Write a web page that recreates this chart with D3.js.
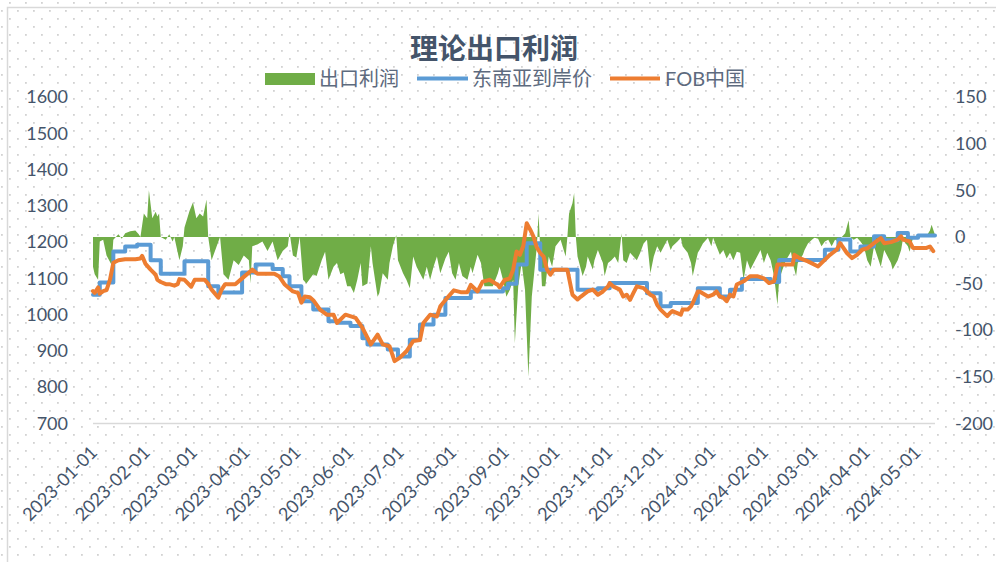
<!DOCTYPE html>
<html>
<head>
<meta charset="utf-8">
<script src="https://cdn.jsdelivr.net/npm/d3@7"></script>
<style>
  body { margin: 0; background: #fff; }
  svg { display: block; }
</style>
</head>
<body>
<svg id="chart" width="996" height="562"></svg>
<script>
// ---- data ----
const title = "理论出口利润";
const seriesNames = ["出口利润", "东南亚到岸价", "FOB中国"];
const leftTicks = [700, 800, 900, 1000, 1100, 1200, 1300, 1400, 1500, 1600];
const rightTicks = [-200, -150, -100, -50, 0, 50, 100, 150];

// 出口利润 (right axis)
const profitDates = ["2023-01-01","2023-01-02","2023-01-04","2023-01-05","2023-01-07","2023-01-09","2023-01-12","2023-01-13","2023-01-16","2023-01-18","2023-01-20","2023-01-23","2023-01-26","2023-01-28","2023-01-29","2023-01-31","2023-02-02","2023-02-03","2023-02-05","2023-02-07","2023-02-08","2023-02-09","2023-02-10","2023-02-13","2023-02-15","2023-02-17","2023-02-18","2023-02-21","2023-02-23","2023-02-24","2023-02-27","2023-03-01","2023-03-03","2023-03-05","2023-03-07","2023-03-09","2023-03-10","2023-03-12","2023-03-15","2023-03-17","2023-03-19","2023-03-22","2023-03-25","2023-03-28","2023-03-31","2023-04-03","2023-04-04","2023-04-05","2023-04-08","2023-04-11","2023-04-14","2023-04-17","2023-04-20","2023-04-23","2023-04-26","2023-04-27","2023-04-29","2023-05-01","2023-05-03","2023-05-05","2023-05-07","2023-05-11","2023-05-13","2023-05-16","2023-05-18","2023-05-20","2023-05-23","2023-05-25","2023-05-27","2023-05-29","2023-05-31","2023-06-02","2023-06-04","2023-06-06","2023-06-08","2023-06-09","2023-06-12","2023-06-14","2023-06-15","2023-06-18","2023-06-19","2023-06-21","2023-06-24","2023-06-25","2023-06-27","2023-06-29","2023-06-30","2023-07-03","2023-07-05","2023-07-07","2023-07-09","2023-07-11","2023-07-13","2023-07-15","2023-07-17","2023-07-19","2023-07-21","2023-07-23","2023-07-25","2023-07-28","2023-07-30","2023-08-01","2023-08-03","2023-08-05","2023-08-07","2023-08-10","2023-08-12","2023-08-13","2023-08-16","2023-08-18","2023-08-20","2023-08-25","2023-08-28","2023-08-29","2023-08-31","2023-09-02","2023-09-04","2023-09-06","2023-09-07","2023-09-09","2023-09-11","2023-09-13","2023-09-15","2023-09-17","2023-09-20","2023-09-21","2023-09-23","2023-09-25","2023-09-27","2023-09-29","2023-10-01","2023-10-04","2023-10-07","2023-10-08","2023-10-09","2023-10-11","2023-10-12","2023-10-13","2023-10-14","2023-10-17","2023-10-19","2023-10-20","2023-10-23","2023-10-24","2023-10-26","2023-10-29","2023-10-30","2023-11-01","2023-11-03","2023-11-05","2023-11-07","2023-11-09","2023-11-10","2023-11-12","2023-11-14","2023-11-16","2023-11-18","2023-11-20","2023-11-22","2023-11-24","2023-11-26","2023-11-28","2023-11-30","2023-12-02","2023-12-04","2023-12-06","2023-12-08","2023-12-09","2023-12-12","2023-12-14","2023-12-15","2023-12-18","2023-12-20","2023-12-21","2023-12-24","2023-12-25","2023-12-27","2023-12-30","2024-01-01","2024-01-02","2024-01-04","2024-01-06","2024-01-08","2024-01-10","2024-01-12","2024-01-14","2024-01-16","2024-01-18","2024-01-20","2024-01-22","2024-01-24","2024-01-26","2024-01-28","2024-01-30","2024-02-01","2024-02-03","2024-02-05","2024-02-07","2024-02-09","2024-02-10","2024-02-12","2024-02-14","2024-02-17","2024-02-18","2024-02-20","2024-02-21","2024-02-24","2024-02-25","2024-02-27","2024-03-01","2024-03-02","2024-03-04","2024-03-06","2024-03-08","2024-03-10","2024-03-12","2024-03-14","2024-03-16","2024-03-18","2024-03-20","2024-03-22","2024-03-23","2024-03-25","2024-03-27","2024-03-29","2024-03-31","2024-04-02","2024-04-04","2024-04-06","2024-04-08","2024-04-10","2024-04-12","2024-04-14","2024-04-16","2024-04-17","2024-04-20","2024-04-22","2024-04-23","2024-04-26","2024-04-27","2024-04-29","2024-05-02","2024-05-03","2024-05-05","2024-05-07","2024-05-09","2024-05-10","2024-05-12"];
const profitValues = [-32,-40,-46,-5,-3,-20,-30,-3,3,-2,4,6,7,3,0,25,20,50,20,27,22,25,0,-3,3,-5,0,-25,-10,10,28,37,20,25,22,40,0,-25,-10,0,-40,-46,-25,-30,-20,-25,-50,-10,-8,-5,-15,-5,-25,-15,-10,5,-20,-22,0,-46,-50,-40,-42,-25,-16,-46,-32,-28,-40,-38,-53,-53,-60,-46,-28,-53,-50,-10,-28,-64,-60,-39,-46,-28,-10,2,-25,-39,-46,-55,-21,-32,-39,-46,-32,-46,-32,-21,-39,-23,-16,-39,-46,-28,-42,-46,-32,-39,-19,-28,-53,-53,-39,-32,-46,-64,-57,-46,-114,-53,-28,-57,-150,-64,-10,25,-53,-53,-21,-32,-10,-3,-21,0,25,36,47,0,-21,-42,-32,-21,-35,-25,-14,-28,-42,-28,-25,-21,-28,4,-25,-28,-17,-21,-25,-17,-7,-3,-39,-21,-10,-17,-10,-3,-14,-10,-5,-1,-10,-17,-28,-42,-17,-14,-7,-1,-10,-1,-10,-19,-14,-23,-17,-25,-16,-17,-46,-25,-35,-28,-21,-14,-28,-17,-25,-42,-73,-46,-35,-25,-16,-28,-42,-28,-19,-14,-7,-2,-1,-2,-10,-5,-3,-10,-3,-5,0,4,18,0,-3,-1,-5,-10,-25,-32,-10,-21,-32,-14,-21,-28,-35,-25,-14,-3,-10,-16,-1,2,0,3,1,7,13,2];

// 东南亚到岸价 (left axis, stepped price)
const seaDates = ["2023-01-01","2023-01-05","2023-01-13","2023-01-20","2023-01-27","2023-02-04","2023-02-10","2023-02-24","2023-03-10","2023-03-16","2023-03-30","2023-04-07","2023-04-17","2023-04-23","2023-04-27","2023-05-04","2023-05-11","2023-05-20","2023-05-26","2023-06-02","2023-06-09","2023-06-12","2023-06-24","2023-06-30","2023-07-07","2023-07-13","2023-07-21","2023-07-28","2023-08-12","2023-08-31","2023-09-03","2023-09-08","2023-09-14","2023-09-22","2023-10-14","2023-10-26","2023-11-02","2023-11-24","2023-12-02","2023-12-08","2023-12-24","2024-01-06","2024-01-12","2024-01-19","2024-02-05","2024-02-10","2024-03-08","2024-03-16","2024-03-23","2024-03-29","2024-04-06","2024-04-12","2024-04-20","2024-04-26","2024-05-02","2024-05-12"];
const seaValues = [1055,1089,1174,1188,1193,1150,1113,1147,1078,1061,1116,1138,1126,1106,1078,1037,1014,982,978,969,935,918,904,885,931,973,1000,1046,1064,1073,1085,1138,1197,1124,1069,1073,1087,1059,1023,1032,1073,1050,1069,1098,1090,1151,1179,1207,1174,1188,1216,1205,1225,1212,1218,1218];

// FOB中国 (left axis)
const fobDates = ["2023-01-01","2023-01-02","2023-01-04","2023-01-05","2023-01-07","2023-01-09","2023-01-11","2023-01-13","2023-01-16","2023-01-20","2023-01-26","2023-01-29","2023-01-30","2023-02-01","2023-02-04","2023-02-07","2023-02-08","2023-02-10","2023-02-13","2023-02-15","2023-02-18","2023-02-20","2023-02-21","2023-02-24","2023-02-28","2023-03-02","2023-03-08","2023-03-10","2023-03-12","2023-03-16","2023-03-18","2023-03-20","2023-03-26","2023-03-30","2023-04-05","2023-04-08","2023-04-18","2023-04-21","2023-04-24","2023-04-29","2023-05-02","2023-05-04","2023-05-06","2023-05-09","2023-05-11","2023-05-15","2023-05-19","2023-05-23","2023-05-25","2023-05-30","2023-06-05","2023-06-09","2023-06-14","2023-06-18","2023-06-21","2023-06-25","2023-06-28","2023-07-01","2023-07-05","2023-07-09","2023-07-13","2023-07-15","2023-07-19","2023-07-23","2023-07-25","2023-07-29","2023-08-02","2023-08-06","2023-08-10","2023-08-12","2023-08-16","2023-08-19","2023-08-23","2023-08-28","2023-08-29","2023-09-01","2023-09-04","2023-09-06","2023-09-08","2023-09-10","2023-09-12","2023-09-14","2023-09-16","2023-09-18","2023-09-20","2023-09-22","2023-09-24","2023-09-26","2023-09-28","2023-09-30","2023-10-08","2023-10-10","2023-10-11","2023-10-14","2023-10-16","2023-10-20","2023-10-23","2023-10-26","2023-10-29","2023-11-01","2023-11-02","2023-11-04","2023-11-08","2023-11-10","2023-11-12","2023-11-14","2023-11-16","2023-11-18","2023-11-22","2023-11-26","2023-11-28","2023-11-30","2023-12-02","2023-12-06","2023-12-08","2023-12-09","2023-12-14","2023-12-15","2023-12-18","2023-12-20","2023-12-21","2023-12-24","2023-12-25","2023-12-30","2024-01-02","2024-01-04","2024-01-06","2024-01-08","2024-01-10","2024-01-12","2024-01-14","2024-01-16","2024-01-20","2024-01-24","2024-01-28","2024-02-01","2024-02-04","2024-02-07","2024-02-09","2024-02-12","2024-02-18","2024-02-19","2024-02-22","2024-02-27","2024-03-04","2024-03-07","2024-03-11","2024-03-15","2024-03-17","2024-03-21","2024-03-24","2024-03-27","2024-03-30","2024-04-02","2024-04-06","2024-04-10","2024-04-12","2024-04-16","2024-04-20","2024-04-22","2024-04-23","2024-04-27","2024-04-29","2024-05-03","2024-05-07","2024-05-09","2024-05-11"];
const fobValues = [1065,1060,1075,1058,1065,1068,1096,1143,1150,1153,1153,1155,1162,1140,1124,1110,1096,1090,1084,1084,1080,1084,1098,1096,1077,1096,1096,1085,1069,1047,1070,1084,1084,1100,1124,1113,1113,1105,1084,1064,1060,1033,1050,1048,1040,1014,1000,1000,977,1000,991,964,918,945,918,913,872,881,899,927,930,977,1000,995,1023,1046,1067,1062,1062,1082,1064,1091,1096,1082,1075,1096,1100,1124,1174,1165,1190,1252,1235,1215,1185,1170,1160,1124,1110,1124,1124,1078,1055,1042,1050,1064,1069,1055,1064,1078,1087,1078,1069,1050,1055,1041,1060,1078,1073,1055,1050,1027,1014,996,1006,1010,1000,1014,1014,1023,1032,1064,1064,1050,1055,1064,1050,1047,1037,1055,1050,1083,1092,1106,1106,1100,1087,1092,1138,1138,1138,1165,1156,1147,1133,1147,1165,1179,1197,1170,1156,1165,1179,1183,1197,1211,1197,1200,1207,1216,1207,1202,1184,1184,1184,1188,1175];

// ---- setup ----
const W = 996, H = 562;
const M = { left: 93, right: 935, top: 97, bottom: 423.5 };
const COLORS = { profit: "#70AD47", sea: "#5B9BD5", fob: "#ED7D31" };
const TEXT = "#44546A";
const FONT = "Lato, 'Noto Sans CJK SC', sans-serif";

const parse = d3.timeParse("%Y-%m-%d");
const profit = profitDates.map((d, i) => ({ date: parse(d), value: profitValues[i] }));
const sea = seaDates.map((d, i) => ({ date: parse(d), value: seaValues[i] }));
const fob = fobDates.map((d, i) => ({ date: parse(d), value: fobValues[i] }));

const svg = d3.select("#chart");

// dotted background + outer border
const defs = svg.append("defs");
const pat = defs.append("pattern")
  .attr("id", "dots")
  .attr("patternUnits", "userSpaceOnUse")
  .attr("width", 16)
  .attr("height", 16);
pat.append("rect").attr("x", 9).attr("y", 2).attr("width", 1.8).attr("height", 1.8).attr("fill", "#d2d2d2");
pat.append("rect").attr("x", 1).attr("y", 10).attr("width", 1.8).attr("height", 1.8).attr("fill", "#d2d2d2");

svg.append("rect").attr("width", W).attr("height", H).attr("fill", "#fff");
svg.append("rect").attr("width", W).attr("height", H).attr("fill", "url(#dots)");
svg.append("rect")
  .attr("x", 7.5).attr("y", 7.5)
  .attr("width", W + 20).attr("height", H + 20)
  .attr("fill", "none")
  .attr("stroke", "#d9d9d9")
  .attr("stroke-width", 1.5);

// scales
const x = d3.scaleTime()
  .domain([parse("2023-01-01"), parse("2024-05-12")])
  .range([M.left, M.right]);
const yL = d3.scaleLinear().domain([700, 1600]).range([M.bottom, M.top]);
const yR = d3.scaleLinear().domain([-200, 150]).range([M.bottom, M.top]);

// title
svg.append("text")
  .attr("x", 494)
  .attr("y", 59)
  .attr("text-anchor", "middle")
  .attr("font-family", "'Noto Sans CJK SC', sans-serif")
  .attr("font-weight", "bold")
  .attr("font-size", 28)
  .attr("fill", TEXT)
  .text(title);

// legend
const legend = svg.append("g").attr("font-family", FONT).attr("font-size", 20).attr("fill", "#5d6a7e");
legend.append("rect").attr("x", 265).attr("y", 73).attr("width", 50).attr("height", 12).attr("fill", COLORS.profit);
legend.append("text").attr("x", 319).attr("y", 86).text(seriesNames[0]);
legend.append("line").attr("x1", 417).attr("x2", 468).attr("y1", 78.5).attr("y2", 78.5)
  .attr("stroke", COLORS.sea).attr("stroke-width", 4);
legend.append("text").attr("x", 472).attr("y", 86).text(seriesNames[1]);
legend.append("line").attr("x1", 610).attr("x2", 660).attr("y1", 78.5).attr("y2", 78.5)
  .attr("stroke", COLORS.fob).attr("stroke-width", 4);
legend.append("text").attr("x", 665).attr("y", 86).text(seriesNames[2]);

// plain integer labels, hyphen minus like the original
const plain = d => String(d);

// left axis
const axL = svg.append("g")
  .attr("transform", `translate(${M.left},0)`)
  .call(d3.axisLeft(yL).tickValues(leftTicks).tickFormat(plain).tickSize(0).tickPadding(25));
axL.select(".domain").remove();
axL.selectAll("text").attr("font-family", FONT).attr("font-size", 18).attr("fill", TEXT);

// right axis
const axR = svg.append("g")
  .attr("transform", `translate(${M.right},0)`)
  .call(d3.axisRight(yR).tickValues(rightTicks).tickFormat(plain).tickSize(0).tickPadding(20));
axR.select(".domain").remove();
axR.selectAll("text").attr("font-family", FONT).attr("font-size", 18).attr("fill", TEXT);

// bottom axis
const axB = svg.append("g")
  .attr("transform", `translate(0,${M.bottom})`)
  .call(d3.axisBottom(x).ticks(d3.timeMonth.every(1)).tickFormat(d3.timeFormat("%Y-%m-%d")).tickSize(0));
axB.select(".domain").remove();
axB.selectAll("text")
  .attr("font-family", FONT)
  .attr("font-size", 18)
  .attr("fill", TEXT)
  .attr("text-anchor", "end")
  .attr("y", 0)
  .attr("dy", null)
  .attr("transform", "translate(5,30) rotate(-45)");

// axis line
svg.append("line")
  .attr("x1", M.left).attr("x2", M.right)
  .attr("y1", M.bottom).attr("y2", M.bottom)
  .attr("stroke", "#d9d9d9")
  .attr("stroke-width", 1.5);

// profit area
const area = d3.area()
  .x(d => x(d.date))
  .y0(yR(0))
  .y1(d => yR(d.value));
svg.append("path").datum(profit).attr("fill", COLORS.profit).attr("d", area);

// lines
const lineSea = d3.line().x(d => x(d.date)).y(d => yL(d.value)).curve(d3.curveStepAfter);
const lineFob = d3.line().x(d => x(d.date)).y(d => yL(d.value));

svg.append("path").datum(sea)
  .attr("fill", "none")
  .attr("stroke", COLORS.sea)
  .attr("stroke-width", 4)
  .attr("stroke-linejoin", "round")
  .attr("stroke-linecap", "round")
  .attr("d", lineSea);

svg.append("path").datum(fob)
  .attr("fill", "none")
  .attr("stroke", COLORS.fob)
  .attr("stroke-width", 4)
  .attr("stroke-linejoin", "round")
  .attr("stroke-linecap", "round")
  .attr("d", lineFob);
</script>
</body>
</html>
